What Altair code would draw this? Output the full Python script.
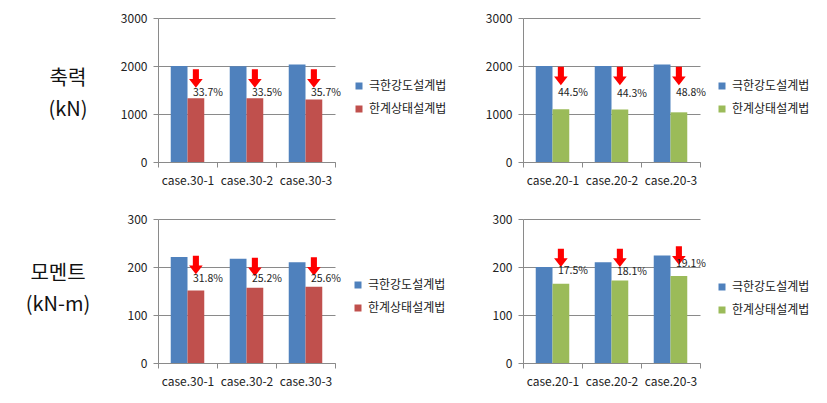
import altair as alt
import pandas as pd

FONT = "Noto Sans CJK KR"

series = ["극한강도설계법", "한계상태설계법"]
cases_30 = ["case.30-1", "case.30-2", "case.30-3"]
cases_20 = ["case.20-1", "case.20-2", "case.20-3"]

axial_30_usd = [2000, 1995, 2030]
axial_30_lsd = [1330, 1328, 1300]
axial_30_pct = ["33.7%", "33.5%", "35.7%"]
axial_30_arrow = [1740, 1740, 1740]
axial_30_label = [1440, 1440, 1440]

axial_20_usd = [2000, 2000, 2030]
axial_20_lsd = [1100, 1095, 1035]
axial_20_pct = ["44.5%", "44.3%", "48.8%"]
axial_20_arrow = [1790, 1790, 1790]
axial_20_label = [1430, 1420, 1430]

moment_30_usd = [221, 217, 210]
moment_30_lsd = [151, 157, 159]
moment_30_pct = ["31.8%", "25.2%", "25.6%"]
moment_30_arrow = [204, 200, 201]
moment_30_label = [175, 175, 176]

moment_20_usd = [200, 210, 224]
moment_20_lsd = [165, 172, 181]
moment_20_pct = ["17.5%", "18.1%", "19.1%"]
moment_20_arrow = [219, 219, 224]
moment_20_label = [192, 190, 206]

BLUE = "#4F81BD"
RED = "#C0504D"
GREEN = "#9BBB59"
ARROW = "M-0.33,-1 L0.33,-1 L0.33,0.05 L0.74,0.05 L0,1 L-0.74,0.05 L-0.33,0.05 Z"

W, H = 177, 144


def panel(cases, usd, lsd, pct, arrow_y, label_y, ymax, step, color2,
          legend_x, legend_y, side=None):
    rows = []
    for c, a, b in zip(cases, usd, lsd):
        rows.append({"case": c, "series": series[0], "value": a})
        rows.append({"case": c, "series": series[1], "value": b})
    bars_df = pd.DataFrame(rows)
    ann_df = pd.DataFrame({"case": cases, "series": [series[1]] * 3,
                           "arrow": arrow_y, "label": label_y, "pct": pct})

    x = alt.X("case:N", sort=cases,
              scale=alt.Scale(paddingInner=0, paddingOuter=0),
              axis=alt.Axis(title=None, labelAngle=0, tickBand="extent",
                            grid=False, tickSize=5, labelPadding=8,
                            labelFontSize=12, labelFont=FONT, labelColor="#222",
                            domainColor="#8a8a8a", tickColor="#8a8a8a"))
    xo = alt.XOffset("series:N", sort=series,
                     scale=alt.Scale(domain=series, paddingInner=0, paddingOuter=0.76))
    yscale = alt.Scale(domain=[0, ymax], nice=False)

    bars = alt.Chart(bars_df).mark_bar().encode(
        x=x, xOffset=xo,
        y=alt.Y("value:Q", scale=yscale,
                axis=alt.Axis(title=None, values=list(range(0, ymax + 1, step)),
                              format="d",
                              grid=True, gridColor="#8a8a8a", tickSize=5,
                              labelFontSize=12, labelFont=FONT, labelColor="#222",
                              labelPadding=6, domainColor="#8a8a8a", tickColor="#8a8a8a")),
        color=alt.Color("series:N", sort=series,
                        scale=alt.Scale(domain=series, range=[BLUE, color2]),
                        legend=alt.Legend(title=None, orient="none",
                                          legendX=legend_x, legendY=legend_y,
                                          symbolType="square", symbolSize=49,
                                          symbolStrokeWidth=0, labelFontSize=12,
                                          labelFont=FONT, labelColor="#222",
                                          rowPadding=11, padding=0, labelOffset=4)),
    )
    arrows = alt.Chart(ann_df).mark_point(
        shape=ARROW, filled=True, color="#FF0000", size=340, opacity=1, strokeWidth=0
    ).encode(x=alt.X("case:N", sort=cases), xOffset=xo,
             y=alt.Y("arrow:Q", scale=yscale))
    texts = alt.Chart(ann_df).mark_text(
        align="left", dx=-3, fontSize=10.5, font=FONT, color="#222"
    ).encode(x=alt.X("case:N", sort=cases), xOffset=xo,
             y=alt.Y("label:Q", scale=yscale), text="pct:N")
    layers = [bars, arrows, texts]
    if side:
        (t1, y1), (t2, y2), sx = side
        for t, yy in ((t1, y1), (t2, y2)):
            layers.append(
                alt.Chart(pd.DataFrame({"t": [t]})).mark_text(
                    align="center", baseline="middle", fontSize=20, font=FONT,
                    color="#111"
                ).encode(text="t:N", x=alt.value(sx), y=alt.value(yy))
            )
    return alt.layer(*layers).properties(width=W, height=H)


p1 = panel(cases_30, axial_30_usd, axial_30_lsd, axial_30_pct, axial_30_arrow,
           axial_30_label, 3000, 1000, RED, 195, 62,
           side=(("축력", 61), ("(kN)", 92), -90))
p2 = panel(cases_20, axial_20_usd, axial_20_lsd, axial_20_pct, axial_20_arrow,
           axial_20_label, 3000, 1000, GREEN, 193, 62)
p3 = panel(cases_30, moment_30_usd, moment_30_lsd, moment_30_pct, moment_30_arrow,
           moment_30_label, 300, 100, RED, 194, 60,
           side=(("모멘트", 55), ("(kN-m)", 86), -100))
p4 = panel(cases_20, moment_20_usd, moment_20_lsd, moment_20_pct, moment_20_arrow,
           moment_20_label, 300, 100, GREEN, 193, 62)

chart = alt.concat(p1, p2, p3, p4, columns=2, spacing={"row": 57, "column": 188},
                   bounds="flush").resolve_scale(
    color="independent", x="independent", y="independent", xOffset="independent"
).properties(
    padding={"left": 25, "top": 12, "right": 5, "bottom": 5}, background="white"
).configure_view(stroke=None)

chart.save("out.html", embed_options={"renderer": "svg", "actions": False})
